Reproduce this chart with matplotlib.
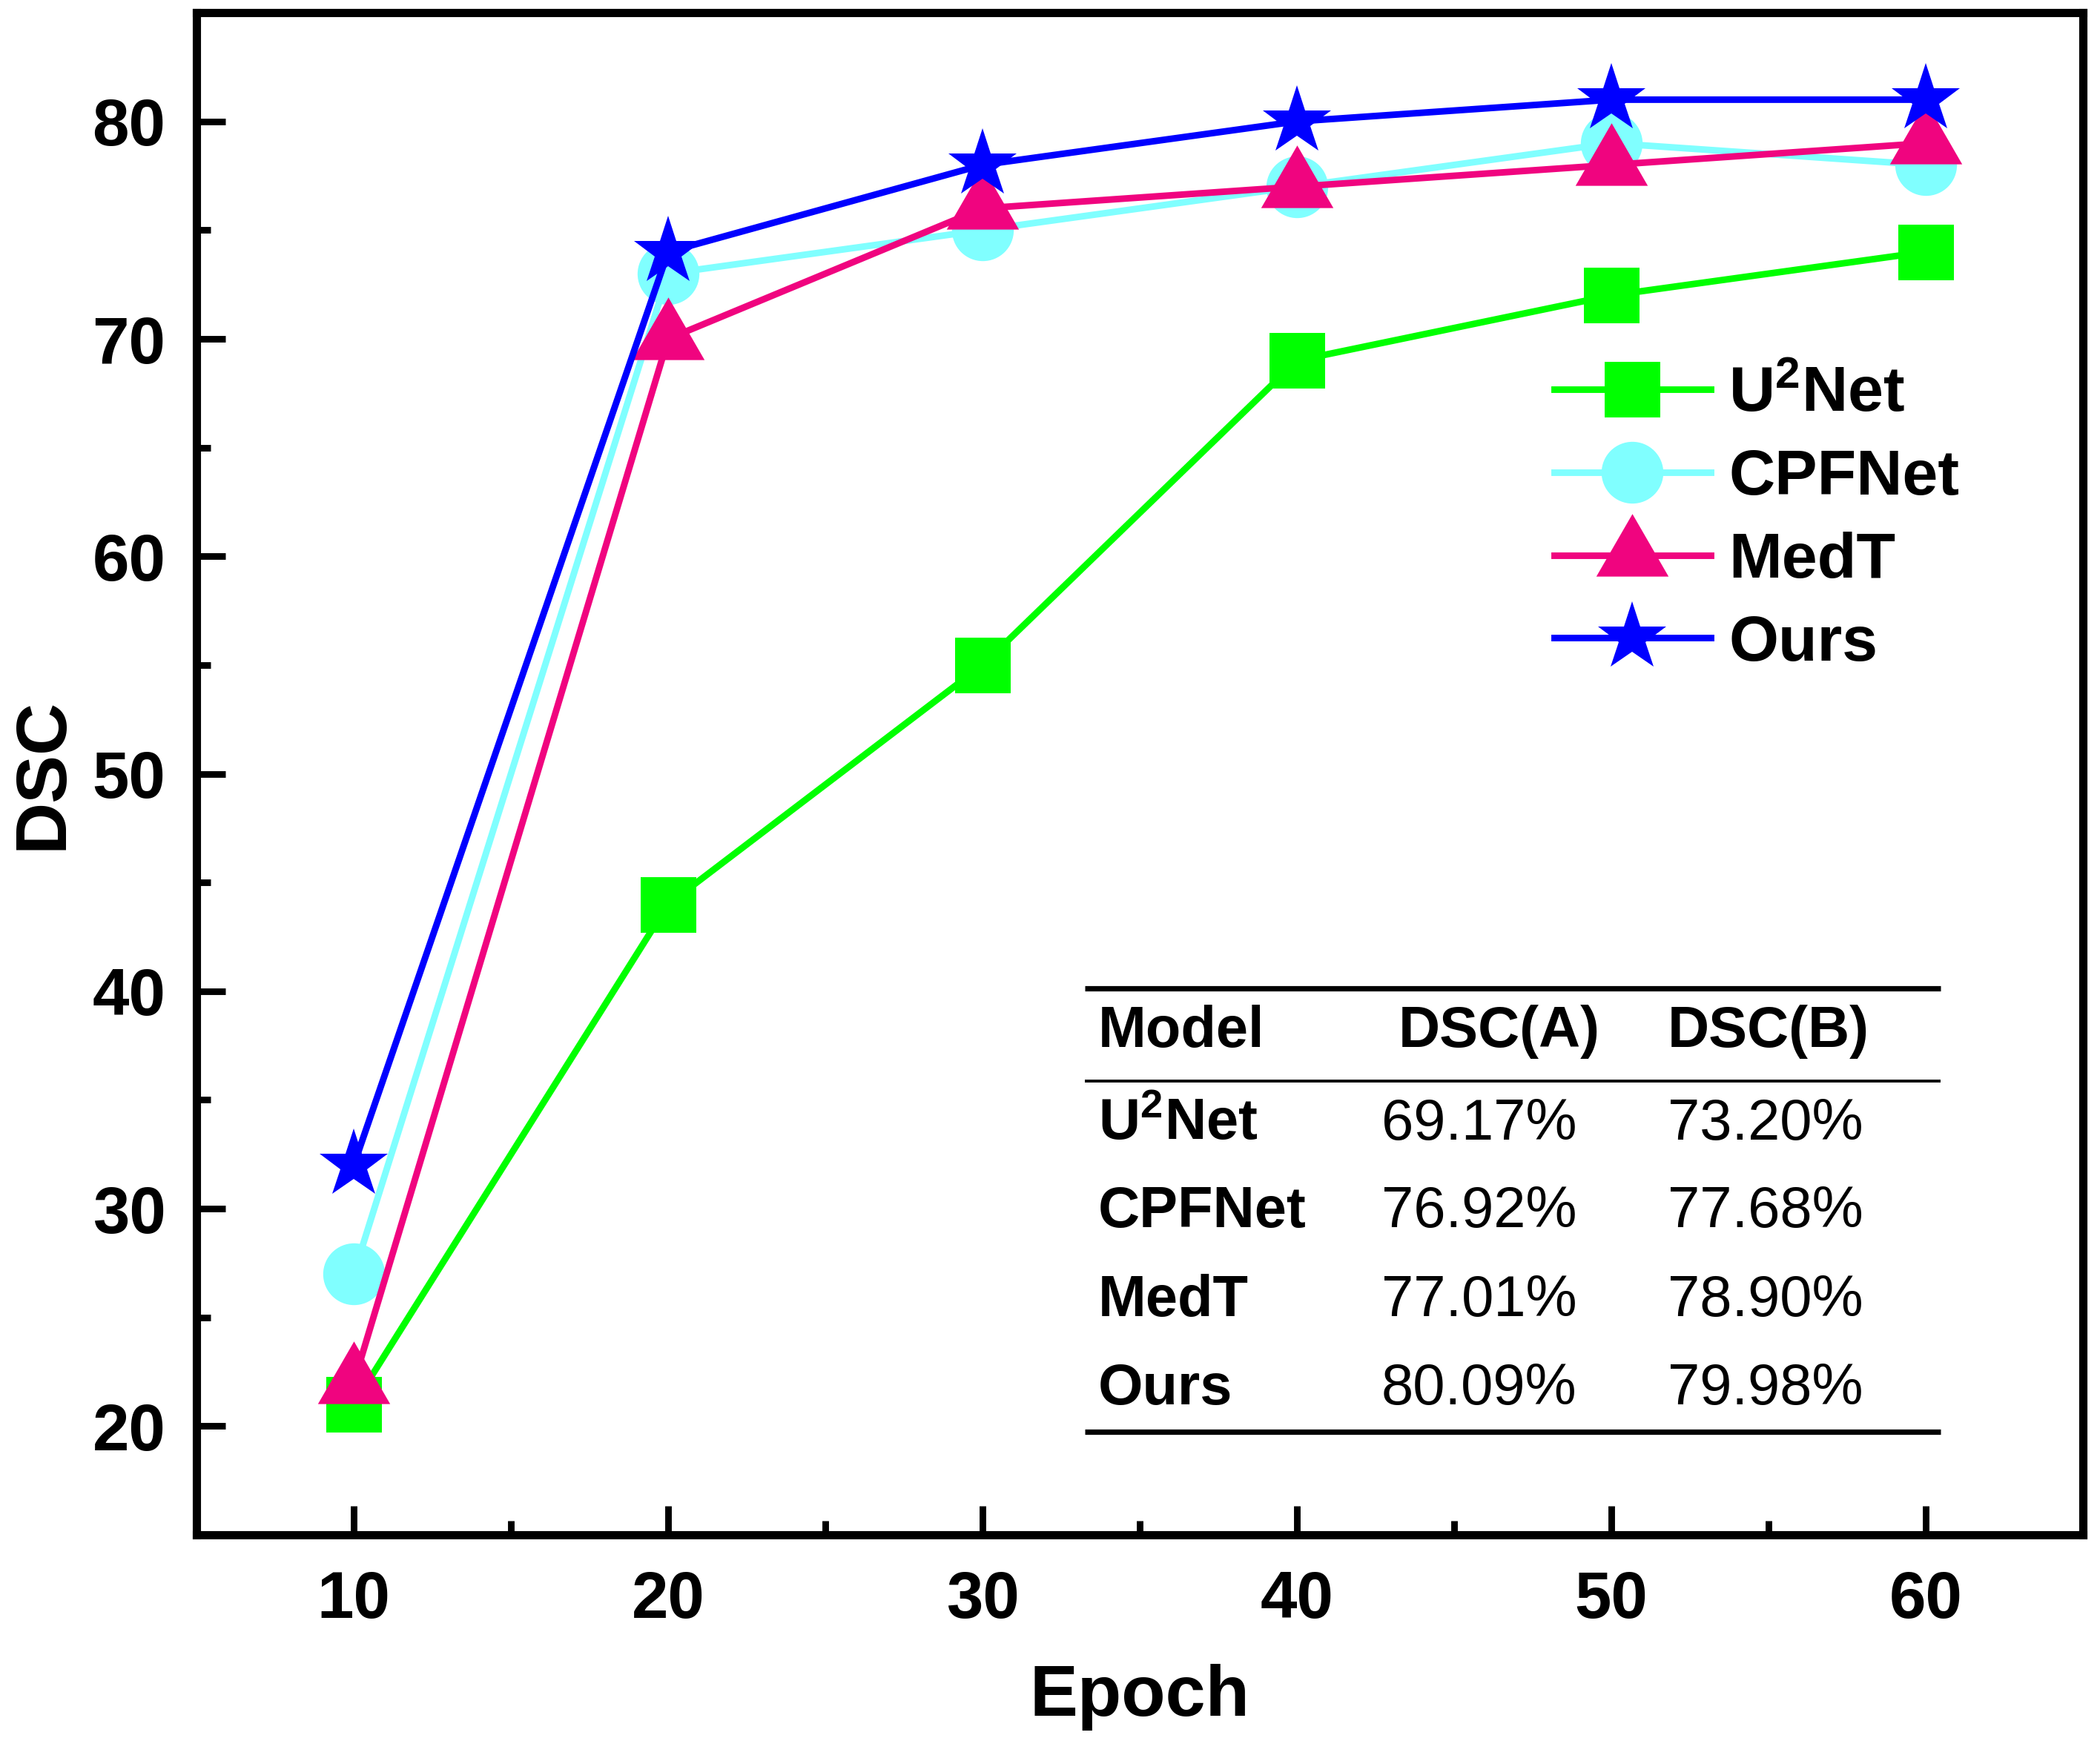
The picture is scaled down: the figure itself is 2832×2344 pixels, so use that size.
import matplotlib
matplotlib.use("Agg")
import matplotlib.pyplot as plt
from matplotlib.ticker import MultipleLocator

# values
epochs = [10, 20, 30, 40, 50, 60]
u2net = [21, 44, 55, 69, 72, 74]
cpfnet = [27, 73, 75, 77, 79, 78]
medt = [22, 70, 76, 77, 78, 79]
ours = [32, 74, 78, 80, 81, 81]

series_names = ["U$^2$Net", "CPFNet", "MedT", "Ours"]

# inset table
table_header = ["Model", "DSC(A)", "DSC(B)"]
table_models = ["U$^2$Net", "CPFNet", "MedT", "Ours"]
dsc_a = ["69.17%", "76.92%", "77.01%", "80.09%"]
dsc_b = ["73.20%", "77.68%", "78.90%", "79.98%"]

plt.rcParams["font.family"] = ["Liberation Sans", "DejaVu Sans"]
plt.rcParams["font.weight"] = "bold"
plt.rcParams["mathtext.default"] = "regular"

fig = plt.figure(figsize=(14.16, 11.72), dpi=200)
ax = fig.add_axes([0.0936, 0.1169, 0.8983, 0.8758])

# equilateral triangle centred on its centroid (Origin style)
tri = [(0, 1), (-0.866, -0.5), (0.866, -0.5)]

styles = [
    dict(color="#00FF00", marker="s", ms=27),
    dict(color="#80FFFF", marker="o", ms=30),
    dict(color="#F0047F", marker=tri, ms=40.5),
    dict(color="#0000FF", marker="*", ms=35),
]
for ys, name, st in zip([u2net, cpfnet, medt, ours], series_names, styles):
    ax.plot(epochs, ys, label=name, lw=3.2, mew=0, **st)

ax.set_xlim(5, 65)
ax.set_ylim(15, 85)
ax.set_xticks(epochs)
ax.set_yticks([20, 30, 40, 50, 60, 70, 80])
ax.xaxis.set_minor_locator(MultipleLocator(5))
ax.yaxis.set_minor_locator(MultipleLocator(5))
ax.tick_params(which="both", direction="in", width=3.2, top=False, right=False)
ax.tick_params(which="major", length=14, labelsize=32)
ax.tick_params(axis="x", which="major", pad=17)
ax.tick_params(axis="y", which="major", pad=15)
ax.tick_params(which="minor", length=7)
for sp in ax.spines.values():
    sp.set_linewidth(4)

ax.set_xlabel("Epoch", fontsize=35, fontweight="bold")
ax.set_ylabel("DSC", fontsize=35, fontweight="bold")
ax.xaxis.set_label_coords(0.5, -0.085)
ax.yaxis.set_label_coords(-0.0637, 0.5)

ax.legend(loc="center left", bbox_to_anchor=(0.7197, 0.667), frameon=False,
          prop={"weight": "bold", "size": 31}, handlelength=2.45,
          handletextpad=0.28, labelspacing=0.37, borderpad=0,
          borderaxespad=0, numpoints=1)

# table rules
x0, x1 = 0.4709, 0.9245
for yy, lw in [(0.359, 2.6), (0.298, 1.4), (0.0677, 2.6)]:
    ax.plot([x0, x1], [yy, yy], transform=ax.transAxes, color="black",
            lw=lw, solid_capstyle="butt", clip_on=False)

col_x = [0.478, 0.6372, 0.7799]
for cx, head in zip(col_x, table_header):
    ax.text(cx, 0.3205, head, transform=ax.transAxes,
            fontsize=28, fontweight="bold", va="baseline")

row_y = [0.2596, 0.2022, 0.1437, 0.0857]
for yy, m, a, b in zip(row_y, table_models, dsc_a, dsc_b):
    ax.text(col_x[0], yy, m, transform=ax.transAxes, fontsize=28,
            fontweight="bold", va="baseline")
    ax.text(0.6281, yy, a, transform=ax.transAxes, fontsize=28,
            fontweight="normal", va="baseline")
    ax.text(col_x[2], yy, b, transform=ax.transAxes, fontsize=28,
            fontweight="normal", va="baseline")

fig.savefig("out.png", dpi=200)
